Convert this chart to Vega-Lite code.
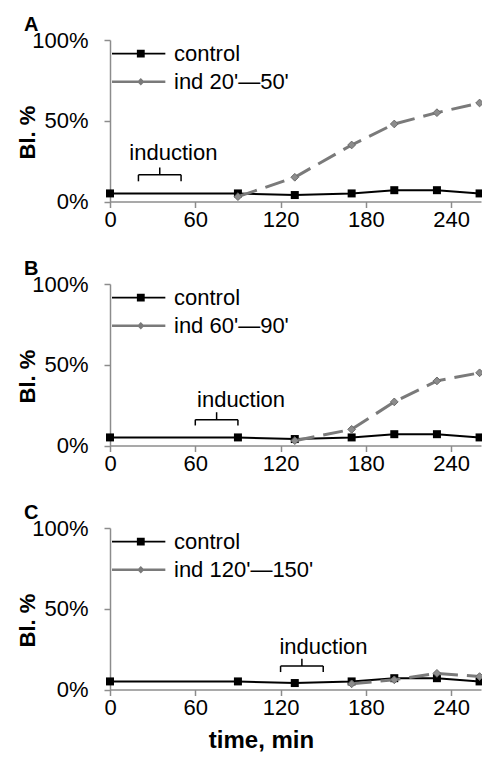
{
  "$schema": "https://vega.github.io/schema/vega-lite/v6.json",
  "padding": {"left": 16, "top": 14, "right": 0, "bottom": 0},
  "config": {
    "font": "Liberation Sans",
    "view": {"stroke": null},
    "axis": {"grid": false, "labelFlush": false, "labelOverlap": false, "domainColor": "#8c8c8c", "tickColor": "#8c8c8c", "domainWidth": 1.5, "tickWidth": 1.5, "tickSize": 6, "labelFontSize": 22, "labelColor": "#000", "titleFontSize": 22, "titleFontWeight": "bold", "titleColor": "#000"},
    "title": {"fontSize": 20, "fontWeight": "bold", "color": "#000", "anchor": "start", "frame": "group"},
    "legend": {"title": null, "orient": "none", "legendX": 2, "legendY": -0.3, "labelFontSize": 22, "labelColor": "#000", "labelFont": "Liberation Sans", "symbolSize": 784, "symbolStrokeWidth": 0, "symbolOpacity": 1, "labelOffset": 34, "rowPadding": 3, "padding": 0, "labelLimit": 300}
  },
  "spacing": 82,
  "bounds": "flush",
  "resolve": {"scale": {"color": "independent", "shape": "independent"}, "legend": {"color": "independent", "shape": "independent"}},
  "datasets": {
    "ctrl": [
      {"t": 0, "v": 5, "series": "control"},
      {"t": 90, "v": 5, "series": "control"},
      {"t": 130, "v": 4, "series": "control"},
      {"t": 170, "v": 5, "series": "control"},
      {"t": 200, "v": 7, "series": "control"},
      {"t": 230, "v": 7, "series": "control"},
      {"t": 260, "v": 5, "series": "control"}
    ],
    "indA": [
      {"t": 90, "v": 3, "series": "ind 20'—50'"},
      {"t": 130, "v": 15, "series": "ind 20'—50'"},
      {"t": 170, "v": 35, "series": "ind 20'—50'"},
      {"t": 200, "v": 48, "series": "ind 20'—50'"},
      {"t": 230, "v": 55, "series": "ind 20'—50'"},
      {"t": 260, "v": 61, "series": "ind 20'—50'"}
    ],
    "indB": [
      {"t": 130, "v": 3, "series": "ind 60'—90'"},
      {"t": 170, "v": 10, "series": "ind 60'—90'"},
      {"t": 200, "v": 27, "series": "ind 60'—90'"},
      {"t": 230, "v": 40, "series": "ind 60'—90'"},
      {"t": 260, "v": 45, "series": "ind 60'—90'"}
    ],
    "indC": [
      {"t": 170, "v": 3.5, "series": "ind 120'—150'"},
      {"t": 200, "v": 6, "series": "ind 120'—150'"},
      {"t": 230, "v": 10, "series": "ind 120'—150'"},
      {"t": 260, "v": 8, "series": "ind 120'—150'"}
    ],
    "bracketA": [
      {"t": 20, "t2": 50, "v": 16.5, "v2": 16.5},
      {"t": 20, "t2": 20, "v": 12.5, "v2": 16.5},
      {"t": 50, "t2": 50, "v": 12.5, "v2": 16.5},
      {"t": 35, "t2": 35, "v": 16.5, "v2": 21}
    ],
    "bracketB": [
      {"t": 60, "t2": 90, "v": 16, "v2": 16},
      {"t": 60, "t2": 60, "v": 12.4, "v2": 16},
      {"t": 90, "t2": 90, "v": 12.4, "v2": 16},
      {"t": 75, "t2": 75, "v": 16, "v2": 20.6}
    ],
    "bracketC": [
      {"t": 120, "t2": 150, "v": 14.5, "v2": 14.5},
      {"t": 120, "t2": 120, "v": 10.8, "v2": 14.5},
      {"t": 150, "t2": 150, "v": 10.8, "v2": 14.5},
      {"t": 135, "t2": 135, "v": 14.5, "v2": 19}
    ],
    "labelA": [{"t": 44.6, "v": 25.6, "label": "induction"}],
    "labelB": [{"t": 92.2, "v": 23.7, "label": "induction"}],
    "labelC": [{"t": 150.2, "v": 21.8, "label": "induction"}]
  },
  "vconcat": [
    {
      "title": {"text": "A", "dx": -86, "offset": -5.5},
      "width": 371, "height": 161.5,
      "encoding": {
        "x": {"field": "t", "type": "quantitative", "scale": {"domain": [0, 261], "nice": false}, "axis": {"values": [0, 60, 120, 180, 240], "title": null, "labelPadding": 2}},
        "y": {"field": "v", "type": "quantitative", "scale": {"domain": [0, 100], "nice": false}, "axis": {"values": [0, 50, 100], "labelExpr": "datum.value + '%'", "labelPadding": 16, "title": "Bl. %", "titleX": -83, "titleY": 92, "titleAngle": -90, "titleBaseline": "middle", "titleAlign": "center"}}
      },
      "layer": [
        {"data": {"name": "bracketA"}, "mark": {"type": "rule", "color": "#000", "strokeWidth": 1.5}, "encoding": {"x2": {"field": "t2"}, "y2": {"field": "v2"}}},
        {"data": {"name": "labelA"}, "mark": {"type": "text", "fontSize": 22, "baseline": "alphabetic", "align": "center", "color": "#000"}, "encoding": {"text": {"field": "label"}}},
        {"data": {"name": "ctrl"}, "mark": {"type": "point", "filled": true, "size": 0, "opacity": 0},
         "encoding": {
           "color": {"field": "series", "type": "nominal", "scale": {"domain": ["control", "ind 20'—50'"], "range": ["#000000", "#7a7a7a"]}},
           "shape": {"field": "series", "type": "nominal", "scale": {"domain": ["control", "ind 20'—50'"], "range": ["M-1,-0.06L2.81,-0.06L2.81,0.06L-1,0.06Z M0.777,-0.28L1.337,-0.28L1.337,0.28L0.777,0.28Z", "M-1,-0.09L2.81,-0.09L2.81,0.09L-1,0.09Z M1.057,-0.27L1.317,0L1.057,0.27L0.797,0Z"]}}
         }},
        {"data": {"name": "ctrl"}, "mark": {"type": "line", "strokeWidth": 2, "color": "#000"}},
        {"data": {"name": "ctrl"}, "mark": {"type": "point", "shape": "square", "filled": true, "size": 64, "color": "#000", "opacity": 1}},
        {"data": {"name": "indA"}, "mark": {"type": "line", "strokeWidth": 3, "strokeDash": [20, 9], "color": "#7a7a7a"}},
        {"data": {"name": "indA"}, "mark": {"type": "point", "shape": "diamond", "filled": true, "size": 60, "fill": "#8c8c8c", "stroke": "#6a6a6a", "strokeWidth": 1, "opacity": 1}}
      ]
    },
    {
      "title": {"text": "B", "dx": -86, "offset": -5.5},
      "width": 371, "height": 161.5,
      "encoding": {
        "x": {"field": "t", "type": "quantitative", "scale": {"domain": [0, 261], "nice": false}, "axis": {"values": [0, 60, 120, 180, 240], "title": null, "labelPadding": 2}},
        "y": {"field": "v", "type": "quantitative", "scale": {"domain": [0, 100], "nice": false}, "axis": {"values": [0, 50, 100], "labelExpr": "datum.value + '%'", "labelPadding": 16, "title": "Bl. %", "titleX": -83, "titleY": 92, "titleAngle": -90, "titleBaseline": "middle", "titleAlign": "center"}}
      },
      "layer": [
        {"data": {"name": "bracketB"}, "mark": {"type": "rule", "color": "#000", "strokeWidth": 1.5}, "encoding": {"x2": {"field": "t2"}, "y2": {"field": "v2"}}},
        {"data": {"name": "labelB"}, "mark": {"type": "text", "fontSize": 22, "baseline": "alphabetic", "align": "center", "color": "#000"}, "encoding": {"text": {"field": "label"}}},
        {"data": {"name": "ctrl"}, "mark": {"type": "point", "filled": true, "size": 0, "opacity": 0},
         "encoding": {
           "color": {"field": "series", "type": "nominal", "scale": {"domain": ["control", "ind 60'—90'"], "range": ["#000000", "#7a7a7a"]}},
           "shape": {"field": "series", "type": "nominal", "scale": {"domain": ["control", "ind 60'—90'"], "range": ["M-1,-0.06L2.81,-0.06L2.81,0.06L-1,0.06Z M0.777,-0.28L1.337,-0.28L1.337,0.28L0.777,0.28Z", "M-1,-0.09L2.81,-0.09L2.81,0.09L-1,0.09Z M1.057,-0.27L1.317,0L1.057,0.27L0.797,0Z"]}}
         }},
        {"data": {"name": "ctrl"}, "mark": {"type": "line", "strokeWidth": 2, "color": "#000"}},
        {"data": {"name": "ctrl"}, "mark": {"type": "point", "shape": "square", "filled": true, "size": 64, "color": "#000", "opacity": 1}},
        {"data": {"name": "indB"}, "mark": {"type": "line", "strokeWidth": 3, "strokeDash": [20, 9], "color": "#7a7a7a"}},
        {"data": {"name": "indB"}, "mark": {"type": "point", "shape": "diamond", "filled": true, "size": 60, "fill": "#8c8c8c", "stroke": "#6a6a6a", "strokeWidth": 1, "opacity": 1}}
      ]
    },
    {
      "title": {"text": "C", "dx": -86, "offset": -5.5},
      "width": 371, "height": 161.5,
      "encoding": {
        "x": {"field": "t", "type": "quantitative", "scale": {"domain": [0, 261], "nice": false}, "axis": {"values": [0, 60, 120, 180, 240], "title": "time, min", "titleFontSize": 24, "titleX": 151, "titleY": 57.5, "titleBaseline": "alphabetic", "titleAlign": "center", "labelPadding": 2}},
        "y": {"field": "v", "type": "quantitative", "scale": {"domain": [0, 100], "nice": false}, "axis": {"values": [0, 50, 100], "labelExpr": "datum.value + '%'", "labelPadding": 16, "title": "Bl. %", "titleX": -83, "titleY": 92, "titleAngle": -90, "titleBaseline": "middle", "titleAlign": "center"}}
      },
      "layer": [
        {"data": {"name": "bracketC"}, "mark": {"type": "rule", "color": "#000", "strokeWidth": 1.5}, "encoding": {"x2": {"field": "t2"}, "y2": {"field": "v2"}}},
        {"data": {"name": "labelC"}, "mark": {"type": "text", "fontSize": 22, "baseline": "alphabetic", "align": "center", "color": "#000"}, "encoding": {"text": {"field": "label"}}},
        {"data": {"name": "ctrl"}, "mark": {"type": "point", "filled": true, "size": 0, "opacity": 0},
         "encoding": {
           "color": {"field": "series", "type": "nominal", "scale": {"domain": ["control", "ind 120'—150'"], "range": ["#000000", "#7a7a7a"]}},
           "shape": {"field": "series", "type": "nominal", "scale": {"domain": ["control", "ind 120'—150'"], "range": ["M-1,-0.06L2.81,-0.06L2.81,0.06L-1,0.06Z M0.777,-0.28L1.337,-0.28L1.337,0.28L0.777,0.28Z", "M-1,-0.09L2.81,-0.09L2.81,0.09L-1,0.09Z M1.057,-0.27L1.317,0L1.057,0.27L0.797,0Z"]}}
         }},
        {"data": {"name": "ctrl"}, "mark": {"type": "line", "strokeWidth": 2, "color": "#000"}},
        {"data": {"name": "ctrl"}, "mark": {"type": "point", "shape": "square", "filled": true, "size": 64, "color": "#000", "opacity": 1}},
        {"data": {"name": "indC"}, "mark": {"type": "line", "strokeWidth": 3, "strokeDash": [20, 9], "color": "#7a7a7a"}},
        {"data": {"name": "indC"}, "mark": {"type": "point", "shape": "diamond", "filled": true, "size": 60, "fill": "#8c8c8c", "stroke": "#6a6a6a", "strokeWidth": 1, "opacity": 1}}
      ]
    }
  ]
}
